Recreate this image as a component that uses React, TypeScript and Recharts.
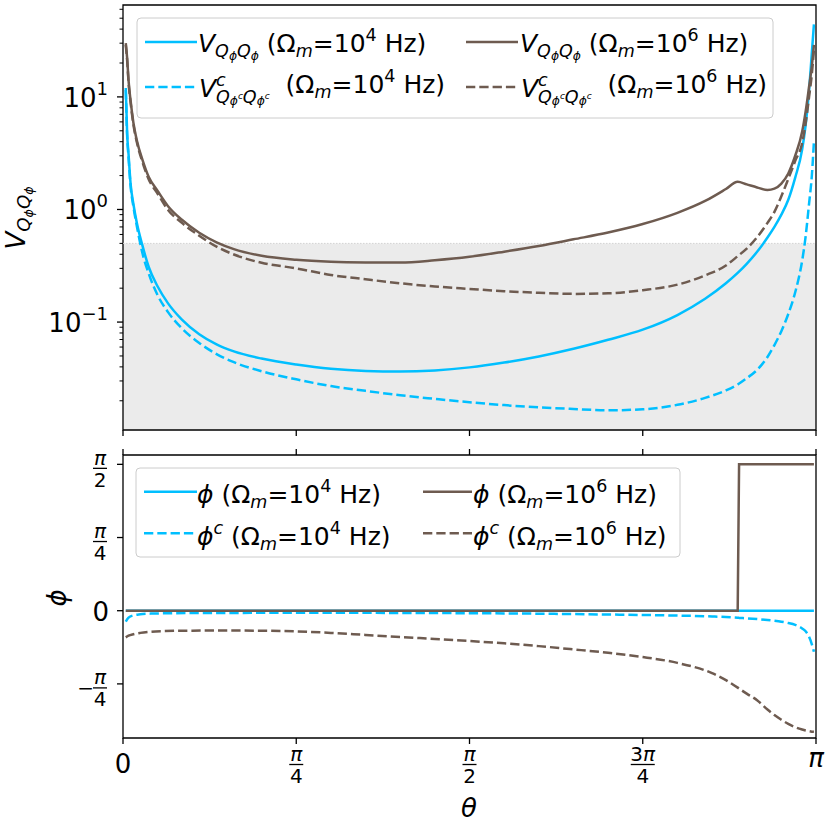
import React from 'react';
import { LineChart, Line, XAxis, YAxis, ReferenceArea, ReferenceLine } from 'recharts';

const FONT = '"DejaVu Sans", Verdana, sans-serif';
const BLUE = '#00bfff';
const BROWN = '#6e5b50';
const DASH = '9.3 4';
const LW = 2.5;
const TICK = 6;
const PAD = 6;

// ---------- top panel data (theta in units of pi) ----------
const thetaTop = [0.004, 0.006, 0.008, 0.011, 0.015, 0.02, 0.028, 0.037, 0.05, 0.065,
  0.085, 0.11, 0.135, 0.16, 0.2, 0.25, 0.3, 0.35, 0.4, 0.45,
  0.5, 0.55, 0.6, 0.65, 0.7, 0.75, 0.8, 0.84, 0.87, 0.887,
  0.9, 0.915, 0.93, 0.94, 0.95, 0.96, 0.97, 0.98, 0.985, 0.99,
  0.994, 0.997];
const vQ4 = [12, 4.7, 3.1, 1.68, 1.12, 0.76, 0.48, 0.31, 0.207, 0.1466,
  0.1052, 0.078, 0.0634, 0.0549, 0.0474, 0.042, 0.0385, 0.0368, 0.03634, 0.0372,
  0.0396, 0.0437, 0.0495, 0.0579, 0.0696, 0.0856, 0.1155, 0.161, 0.221, 0.273,
  0.329, 0.421, 0.563, 0.7, 0.9, 1.22, 1.92, 3.4, 5.6, 11.3,
  24.8, 44];
const vQc4 = [11.5, 4.5, 2.9, 1.6, 1.06, 0.71, 0.41, 0.271, 0.173, 0.1225,
  0.0879, 0.0652, 0.052, 0.044, 0.0366, 0.031, 0.027, 0.0245, 0.0224, 0.0208,
  0.0194, 0.0183, 0.0175, 0.0169, 0.01645, 0.0168, 0.0184, 0.0212, 0.0247, 0.0279,
  0.0317, 0.0376, 0.049, 0.0625, 0.083, 0.118, 0.184, 0.35, 0.573, 1.13,
  2.0, 4.0];
const vQ6 = [30, 22, 14, 9.2, 5.9, 4.1, 2.77, 1.95, 1.46, 1.07,
  0.81, 0.621, 0.511, 0.445, 0.388, 0.358, 0.344, 0.339, 0.338, 0.354,
  0.38, 0.422, 0.474, 0.543, 0.624, 0.742, 0.933, 1.19, 1.52, 1.76,
  1.67, 1.57, 1.49, 1.53, 1.7, 2.09, 3.0, 4.9, 7.4, 12.3,
  18.9, 29];
const vQc6 = [29, 21, 13.5, 8.9, 5.7, 3.95, 2.65, 1.86, 1.38, 0.99,
  0.76, 0.585, 0.467, 0.398, 0.336, 0.3, 0.262, 0.24, 0.221, 0.207,
  0.197, 0.188, 0.182, 0.178, 0.18, 0.192, 0.215, 0.26, 0.318, 0.385,
  0.449, 0.567, 0.76, 0.953, 1.31, 1.87, 2.7, 3.88, 5.8, 10,
  16, 26];

// ---------- bottom panel data ----------
const thetaBot = [0.004, 0.008, 0.015, 0.025, 0.04, 0.06, 0.1, 0.15, 0.2, 0.25,
  0.3, 0.35, 0.4, 0.45, 0.5, 0.55, 0.6, 0.65, 0.7, 0.75,
  0.8, 0.85, 0.87, 0.887, 0.889, 0.9, 0.915, 0.93, 0.94, 0.95,
  0.96, 0.97, 0.98, 0.985, 0.99, 0.994, 0.997];
const phi4 = [0, 0, 0, 0, 0, 0, 0, 0, 0, 0,
  0, 0, 0, 0, 0, 0, 0, 0, 0, 0,
  0, 0, 0, 0, 0, 0, 0, 0, 0, 0,
  0, 0, 0, 0, 0, 0, 0];
const phi6 = [0, 0, 0, 0, 0, 0, 0, 0, 0, 0,
  0, 0, 0, 0, 0, 0, 0, 0, 0, 0,
  0, 0, 0, 0, 1.5708, 1.5708, 1.5708, 1.5708, 1.5708, 1.5708,
  1.5708, 1.5708, 1.5708, 1.5708, 1.5708, 1.5708, 1.5708];
const phiC4 = [-0.118, -0.075, -0.05, -0.038, -0.031, -0.028, -0.025, -0.024, -0.023, -0.023,
  -0.023, -0.023, -0.024, -0.025, -0.027, -0.029, -0.032, -0.036, -0.041, -0.046,
  -0.052, -0.062, -0.068, -0.076, -0.077, -0.082, -0.09, -0.1, -0.108, -0.118,
  -0.132, -0.152, -0.19, -0.22, -0.28, -0.36, -0.44];
const phiC6 = [-0.286, -0.268, -0.252, -0.238, -0.226, -0.219, -0.214, -0.213, -0.215, -0.222,
  -0.238, -0.26, -0.282, -0.303, -0.325, -0.35, -0.38, -0.415, -0.452, -0.497,
  -0.56, -0.67, -0.745, -0.825, -0.835, -0.89, -0.96, -1.06, -1.12, -1.17,
  -1.215, -1.25, -1.275, -1.285, -1.293, -1.298, -1.3];

// ---------- axes ----------
const xTicks = [0, 0.25, 0.5, 0.75, 1];
const xTickLabels = ['0', 'π/4', 'π/2', '3π/4', 'π'];
const topDomain = [0.011, 65.5];
const yMajorTop = [0.1, 1, 10];
const yMajorTopExp = ['−1', '0', '1'];
const yMinorTop = [0.02, 0.03, 0.04, 0.05, 0.06, 0.07, 0.08, 0.09,
  0.2, 0.3, 0.4, 0.5, 0.6, 0.7, 0.8, 0.9,
  2, 3, 4, 5, 6, 7, 8, 9, 20, 30, 40, 50, 60];
const shadeTop = 0.5;
const botDomain = [-1.366, 1.671];
const yTicksBot = [-Math.PI / 4, 0, Math.PI / 4, Math.PI / 2];
const yTickLabelsBot = ['−π/4', '0', 'π/4', 'π/2'];

const topData = thetaTop.map((t, i) => ({ t, v4: vQ4[i], vc4: vQc4[i], v6: vQ6[i], vc6: vQc6[i] }));
const botData = thetaBot.map((t, i) => ({ t, p4: phi4[i], pc4: phiC4[i], p6: phi6[i], pc6: phiC6[i] }));

const FS = 26;
const FR = 20;

function fracParts(lab: string) {
  const neg = lab.startsWith('−');
  const s = neg ? lab.slice(1) : lab;
  const [num, den] = s.split('/');
  return { neg, num, den };
}

function NumText({ x, y, num, anchor }: any) {
  const parts = num.split('π');
  return (
    <text x={x} y={y} textAnchor={anchor} fontFamily={FONT} fontSize={FR} fill="#000">
      {parts[0] ? <tspan>{parts[0]}</tspan> : null}
      <tspan fontStyle="italic">π</tspan>
    </text>
  );
}

function Fraction({ cx, bar, lab }: any) {
  const { neg, num, den } = fracParts(lab);
  const half = num.length > 1 ? 12 : 7;
  return (
    <g>
      {neg ? (
        <text x={cx - half + 1} y={bar + 7} textAnchor="end" fontFamily={FONT} fontSize={FR} fill="#000">−</text>
      ) : null}
      <NumText x={cx} y={bar - 3.8} num={num} anchor="middle" />
      <line x1={cx - half} x2={cx + half} y1={bar} y2={bar} stroke="#000" strokeWidth={1.3} />
      <text x={cx} y={bar + 18.4} textAnchor="middle" fontFamily={FONT} fontSize={FR} fill="#000">{den}</text>
    </g>
  );
}

function TopYTick(props: any) {
  const { x, y, payload } = props;
  const v = payload.value as number;
  const ax = x + TICK + PAD;
  const idx = yMajorTop.indexOf(v);
  if (idx < 0) {
    return <line x1={ax - 3.5} x2={ax} y1={y} y2={y} stroke="#000" strokeWidth={1} />;
  }
  return (
    <g>
      <line x1={ax - TICK} x2={ax} y1={y} y2={y} stroke="#000" strokeWidth={1.3} />
      <text x={ax - 15} y={y + 10} textAnchor="end" fontFamily={FONT} fontSize={FS} fill="#000">
        10<tspan dy={-12} fontSize={18}>{yMajorTopExp[idx]}</tspan>
      </text>
    </g>
  );
}

function BotYTick(props: any) {
  const { x, y, payload } = props;
  const ax = x + TICK + PAD;
  const idx = yTicksBot.indexOf(payload.value);
  const lab = yTickLabelsBot[idx];
  if (lab === undefined) return <g />;
  if (lab.indexOf('/') < 0) {
    return (
      <text x={ax - 14} y={y + 10} textAnchor="end" fontFamily={FONT} fontSize={FS} fill="#000">{lab}</text>
    );
  }
  return <Fraction cx={ax - 23} bar={y + 4} lab={lab} />;
}

function BotXTick(props: any) {
  const { x, y, payload } = props;
  const ay = y - TICK;
  const idx = xTicks.indexOf(payload.value);
  const lab = xTickLabels[idx];
  if (lab === undefined) return <g />;
  if (lab === 'π') {
    return (
      <text x={x} y={ay + 29} textAnchor="middle" fontFamily={FONT} fontSize={FS} fontStyle="italic" fill="#000">π</text>
    );
  }
  if (lab.indexOf('/') < 0) {
    return (
      <text x={x} y={ay + 35} textAnchor="middle" fontFamily={FONT} fontSize={FS} fill="#000">{lab}</text>
    );
  }
  return <Fraction cx={x} bar={ay + 26.5} lab={lab} />;
}

const noTick = () => <g />;

function LegendV({ x, y, exp, c }: { x: number; y: number; exp: string; c: boolean }) {
  if (!c) {
    return (
      <text x={x} y={y} fontFamily={FONT} fontSize={25} fill="#000" style={{ whiteSpace: 'pre' }}>
        <tspan fontStyle="italic">V</tspan>
        <tspan fontStyle="italic" fontSize={17.5} dy={5}>Q</tspan>
        <tspan fontStyle="italic" fontSize={12.3} dy={3}>ϕ</tspan>
        <tspan fontStyle="italic" fontSize={17.5} dy={-3}>Q</tspan>
        <tspan fontStyle="italic" fontSize={12.3} dy={3}>ϕ</tspan>
        <tspan dy={-8}>{' (Ω'}</tspan>
        <tspan fontStyle="italic" fontSize={17.5} dy={5}>m</tspan>
        <tspan dy={-5}>=10</tspan>
        <tspan fontSize={17.5} dy={-11}>{exp}</tspan>
        <tspan dy={11}>{' Hz)'}</tspan>
      </text>
    );
  }
  return (
    <g>
      <text x={x} y={y} fontFamily={FONT} fontSize={25} fill="#000">
        <tspan fontStyle="italic">V</tspan>
        <tspan fontStyle="italic" fontSize={17.5} dy={-11}>c</tspan>
      </text>
      <text x={x + 17} y={y + 6} fontFamily={FONT} fontSize={25} fill="#000" style={{ whiteSpace: 'pre' }}>
        <tspan fontStyle="italic" fontSize={17.5}>Q</tspan>
        <tspan fontStyle="italic" fontSize={12.3} dy={2}>ϕ</tspan>
        <tspan fontStyle="italic" fontSize={9} dy={-6}>c</tspan>
        <tspan fontStyle="italic" fontSize={17.5} dy={4}>Q</tspan>
        <tspan fontStyle="italic" fontSize={12.3} dy={2}>ϕ</tspan>
        <tspan fontStyle="italic" fontSize={9} dy={-6}>c</tspan>
        <tspan dy={-6}>{'  (Ω'}</tspan>
        <tspan fontStyle="italic" fontSize={17.5} dy={5}>m</tspan>
        <tspan dy={-5}>=10</tspan>
        <tspan fontSize={17.5} dy={-11}>{exp}</tspan>
        <tspan dy={11}>{' Hz)'}</tspan>
      </text>
    </g>
  );
}

function LegendPhi({ x, y, exp, c }: { x: number; y: number; exp: string; c: boolean }) {
  return (
    <text x={x} y={y} fontFamily={FONT} fontSize={25} fill="#000" style={{ whiteSpace: 'pre' }}>
      <tspan fontStyle="italic">ϕ</tspan>
      {c ? <tspan fontStyle="italic" fontSize={17.5} dy={-11}>c</tspan> : null}
      <tspan dy={c ? 11 : 0}>{' (Ω'}</tspan>
      <tspan fontStyle="italic" fontSize={17.5} dy={5}>m</tspan>
      <tspan dy={-5}>=10</tspan>
      <tspan fontSize={17.5} dy={-11}>{exp}</tspan>
      <tspan dy={11}>{' Hz)'}</tspan>
    </text>
  );
}

function Sample({ x1, x2, y, color, dashed }: any) {
  return (
    <line x1={x1} x2={x2} y1={y} y2={y} stroke={color} strokeWidth={LW}
      strokeDasharray={dashed ? DASH : undefined} />
  );
}

export default function App() {
  return (
    <div style={{ position: 'absolute', left: 0, top: 0, width: 830, height: 830, background: '#fff', overflow: 'hidden' }}>
      <div style={{ position: 'absolute', left: 0, top: 0 }}>
        <LineChart width={830} height={440} data={topData} margin={{ top: 5, right: 14, bottom: 0, left: 0 }}>
          <XAxis type="number" dataKey="t" domain={[0, 1]} allowDataOverflow ticks={xTicks} interval={0}
            height={10} tickSize={TICK} axisLine={false} tick={noTick}
            tickLine={{ stroke: '#000', strokeWidth: 1.3 }} />
          <YAxis type="number" scale="log" domain={topDomain} allowDataOverflow
            ticks={[...yMajorTop, ...yMinorTop]} interval={0} width={123}
            tickSize={TICK} tickMargin={PAD} tickLine={false} axisLine={false} tick={TopYTick} />
          <ReferenceArea x1={0} x2={1} y1={topDomain[0]} y2={shadeTop} fill="#ebebeb" fillOpacity={1} stroke="none" />
          <ReferenceLine y={shadeTop} stroke="#d2d2d2" strokeWidth={1} strokeDasharray="1.5 1.5" />
          <Line type="monotone" dataKey="v4" stroke={BLUE} strokeWidth={LW} dot={false} isAnimationActive={false} />
          <Line type="monotone" dataKey="vc4" stroke={BLUE} strokeWidth={LW} strokeDasharray={DASH} dot={false} isAnimationActive={false} />
          <Line type="monotone" dataKey="v6" stroke={BROWN} strokeWidth={LW} dot={false} isAnimationActive={false} />
          <Line type="monotone" dataKey="vc6" stroke={BROWN} strokeWidth={LW} strokeDasharray={DASH} dot={false} isAnimationActive={false} />
          <ReferenceArea x1={0} x2={1} y1={topDomain[0]} y2={topDomain[1]} fill="none" stroke="#000" strokeWidth={1.3} />
        </LineChart>
      </div>
      <div style={{ position: 'absolute', left: 0, top: 440 }}>
        <LineChart width={830} height={390} data={botData} margin={{ top: 0, right: 14, bottom: 0, left: 0 }}>
          <XAxis type="number" dataKey="t" domain={[0, 1]} allowDataOverflow ticks={xTicks} interval={0}
            height={92} tickSize={TICK} tickMargin={0} axisLine={false} tick={BotXTick}
            tickLine={{ stroke: '#000', strokeWidth: 1.3 }} />
          <XAxis xAxisId="top" orientation="top" type="number" dataKey="t" domain={[0, 1]} allowDataOverflow
            ticks={xTicks} interval={0} height={15} tickSize={TICK} axisLine={false} tick={noTick}
            tickLine={{ stroke: '#000', strokeWidth: 1.3 }} />
          <YAxis type="number" domain={botDomain} allowDataOverflow ticks={yTicksBot} interval={0} width={123}
            tickSize={TICK} tickMargin={PAD} axisLine={false} tick={BotYTick}
            tickLine={{ stroke: '#000', strokeWidth: 1.3 }} />
          <Line type="linear" dataKey="p4" stroke={BLUE} strokeWidth={LW} dot={false} isAnimationActive={false} />
          <Line type="monotone" dataKey="pc4" stroke={BLUE} strokeWidth={LW} strokeDasharray={DASH} dot={false} isAnimationActive={false} />
          <Line type="linear" dataKey="p6" stroke={BROWN} strokeWidth={LW} dot={false} isAnimationActive={false} />
          <Line type="monotone" dataKey="pc6" stroke={BROWN} strokeWidth={LW} strokeDasharray={DASH} dot={false} isAnimationActive={false} />
          <ReferenceArea x1={0} x2={1} y1={botDomain[0]} y2={botDomain[1]} fill="none" stroke="#000" strokeWidth={1.3} />
        </LineChart>
      </div>
      <svg width={830} height={830} style={{ position: 'absolute', left: 0, top: 0, pointerEvents: 'none' }}>
        {/* top legend */}
        <rect x={137} y={18} width={636} height={100} rx={4} fill="#fff" fillOpacity={0.8} stroke="#cccccc" strokeWidth={1} />
        <Sample x1={145} x2={197} y={42} color={BLUE} dashed={false} />
        <LegendV x={198} y={52} exp="4" c={false} />
        <Sample x1={145} x2={197} y={87} color={BLUE} dashed />
        <LegendV x={199} y={97} exp="4" c />
        <Sample x1={466} x2={518} y={42} color={BROWN} dashed={false} />
        <LegendV x={520} y={52} exp="6" c={false} />
        <Sample x1={466} x2={518} y={87} color={BROWN} dashed />
        <LegendV x={521} y={97} exp="6" c />

        {/* bottom legend */}
        <rect x={136} y={468} width={544} height={89} rx={4} fill="#fff" fillOpacity={0.8} stroke="#cccccc" strokeWidth={1} />
        <Sample x1={144} x2={197} y={491.7} color={BLUE} dashed={false} />
        <LegendPhi x={197} y={503} exp="4" c={false} />
        <Sample x1={144} x2={197} y={533.3} color={BLUE} dashed />
        <LegendPhi x={197} y={545} exp="4" c />
        <Sample x1={423} x2={472} y={491.7} color={BROWN} dashed={false} />
        <LegendPhi x={473} y={503} exp="6" c={false} />
        <Sample x1={423} x2={472} y={533.3} color={BROWN} dashed />
        <LegendPhi x={473} y={545} exp="6" c />

        {/* axis labels */}
        <text transform="translate(25,218) rotate(-90)" textAnchor="middle" fontFamily={FONT} fontSize={26} fill="#000">
          <tspan fontStyle="italic">V</tspan>
          <tspan fontStyle="italic" fontSize={18.2} dy={5}>Q</tspan>
          <tspan fontStyle="italic" fontSize={12.7} dy={3}>ϕ</tspan>
          <tspan fontStyle="italic" fontSize={18.2} dy={-3}>Q</tspan>
          <tspan fontStyle="italic" fontSize={12.7} dy={3}>ϕ</tspan>
        </text>
        <text transform="translate(66,598) rotate(-90)" textAnchor="middle" fontFamily={FONT} fontSize={26} fontStyle="italic" fill="#000">ϕ</text>
        <text x={469} y={817} textAnchor="middle" fontFamily={FONT} fontSize={26} fontStyle="italic" fill="#000">θ</text>
      </svg>
    </div>
  );
}
